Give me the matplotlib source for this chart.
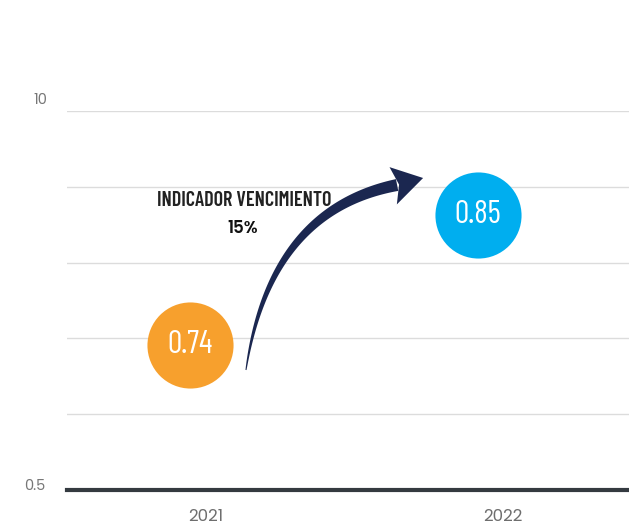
import numpy as np
import matplotlib
matplotlib.use("Agg")
import matplotlib.pyplot as plt
from matplotlib.patches import Polygon
from matplotlib.transforms import IdentityTransform

# ---- data ----
years = ["2021", "2022"]
values = [0.74, 0.85]
value_labels = ["0.74", "0.85"]
point_colors = ["#F7A02D", "#00AEEF"]
axis_labels = ["0.5", "10"]
title_text = "INDICADOR VENCIMIENTO"
change_text = "15%"

GEO = ["Poppins", "Lato", "DejaVu Sans"]
COND = ["Barlow Condensed", "DejaVu Sans"]

W, H, DPI = 629, 527, 100
fig = plt.figure(figsize=(W / DPI, H / DPI), dpi=DPI)
ax = fig.add_axes([67 / W, (H - 490) / H, (W - 67) / W, (490 - 111) / H])

ymin, ymax = 0.6173, 0.938
ax.set_ylim(ymin, ymax)
ax.set_xlim(-0.468, 1.424)

grid = np.linspace(ymin, ymax, 6)
for g in grid[1:]:
    ax.axhline(g, color="#DCDCDC", lw=1, zorder=0)
ax.axhline(ymin, color="#343A40", lw=3, zorder=1, clip_on=False)

for s in ax.spines.values():
    s.set_visible(False)
ax.set_xticks([])
ax.set_yticks([])

# y labels (first and last)
ytr = ax.get_yaxis_transform()
ax.annotate(axis_labels[0], (0, grid[0]), xycoords=ytr, xytext=(-22, 3),
            textcoords="offset pixels", ha="right", va="center",
            fontsize=10.5, color="#777777", family=GEO)
ax.annotate(axis_labels[1], (0, grid[-1]), xycoords=ytr, xytext=(-20, 11),
            textcoords="offset pixels", ha="right", va="center",
            fontsize=10.5, color="#777777", family=GEO)

# x labels
xs = np.arange(len(years))
for x, y in zip(xs, years):
    ax.text(x, -0.07, y, transform=ax.get_xaxis_transform(), ha="center", va="center",
            fontsize=12, color="#6E6E6E", family=GEO)

# circles
off = [-0.054, -0.084]
px = xs + np.array(off)
for x, v, c, lab in zip(px, values, point_colors, value_labels):
    ax.plot(x, v, "o", ms=62, color=c, mec="none", zorder=3, clip_on=False)
    ax.text(x, v, lab, ha="center", va="center", color="white", fontsize=23,
            fontweight="normal", family=COND, zorder=4)

# annotation text
ax.text(0.127, 0.862, title_text, ha="center", va="center", fontsize=14.5,
        fontweight="semibold", color="#222222", family=COND)
ax.text(0.122, 0.838, change_text, ha="center", va="center", fontsize=12,
        fontweight="semibold", color="#111111", family=GEO)

# tapered curved arrow (display coords anchored to the two points)
fig.canvas.draw()
p1 = ax.transData.transform((px[0], values[0]))
p2 = ax.transData.transform((px[1], values[1]))
P0 = p1 + np.array([56, -25])
tip = p2 + np.array([-55, 37])
P2 = tip + np.array([-26, -7])
P1 = P0 + np.array([24, 160])
t = np.linspace(0, 1, 80)[:, None]
B = (1 - t) ** 2 * P0 + 2 * (1 - t) * t * P1 + t ** 2 * P2
D = 2 * (1 - t) * (P1 - P0) + 2 * t * (P2 - P1)
D = D / np.linalg.norm(D, axis=1)[:, None]
N = np.column_stack([-D[:, 1], D[:, 0]])
w = (0.5 + 5.5 * t ** 0.8)
left = B + N * w
right = B - N * w
shaft = np.vstack([left, right[::-1]])
fig.patches.append(Polygon(shaft, closed=True, transform=IdentityTransform(),
                           fc="#1B2750", ec="none", zorder=5))
d = D[-1]
n = N[-1]
head = np.array([tip, P2 + n * 19 - d * 4, P2 + d * 2, P2 - n * 19 - d * 4])
fig.patches.append(Polygon(head, closed=True, transform=IdentityTransform(),
                           fc="#1B2750", ec="none", zorder=5))

fig.savefig("out.png", dpi=DPI)
